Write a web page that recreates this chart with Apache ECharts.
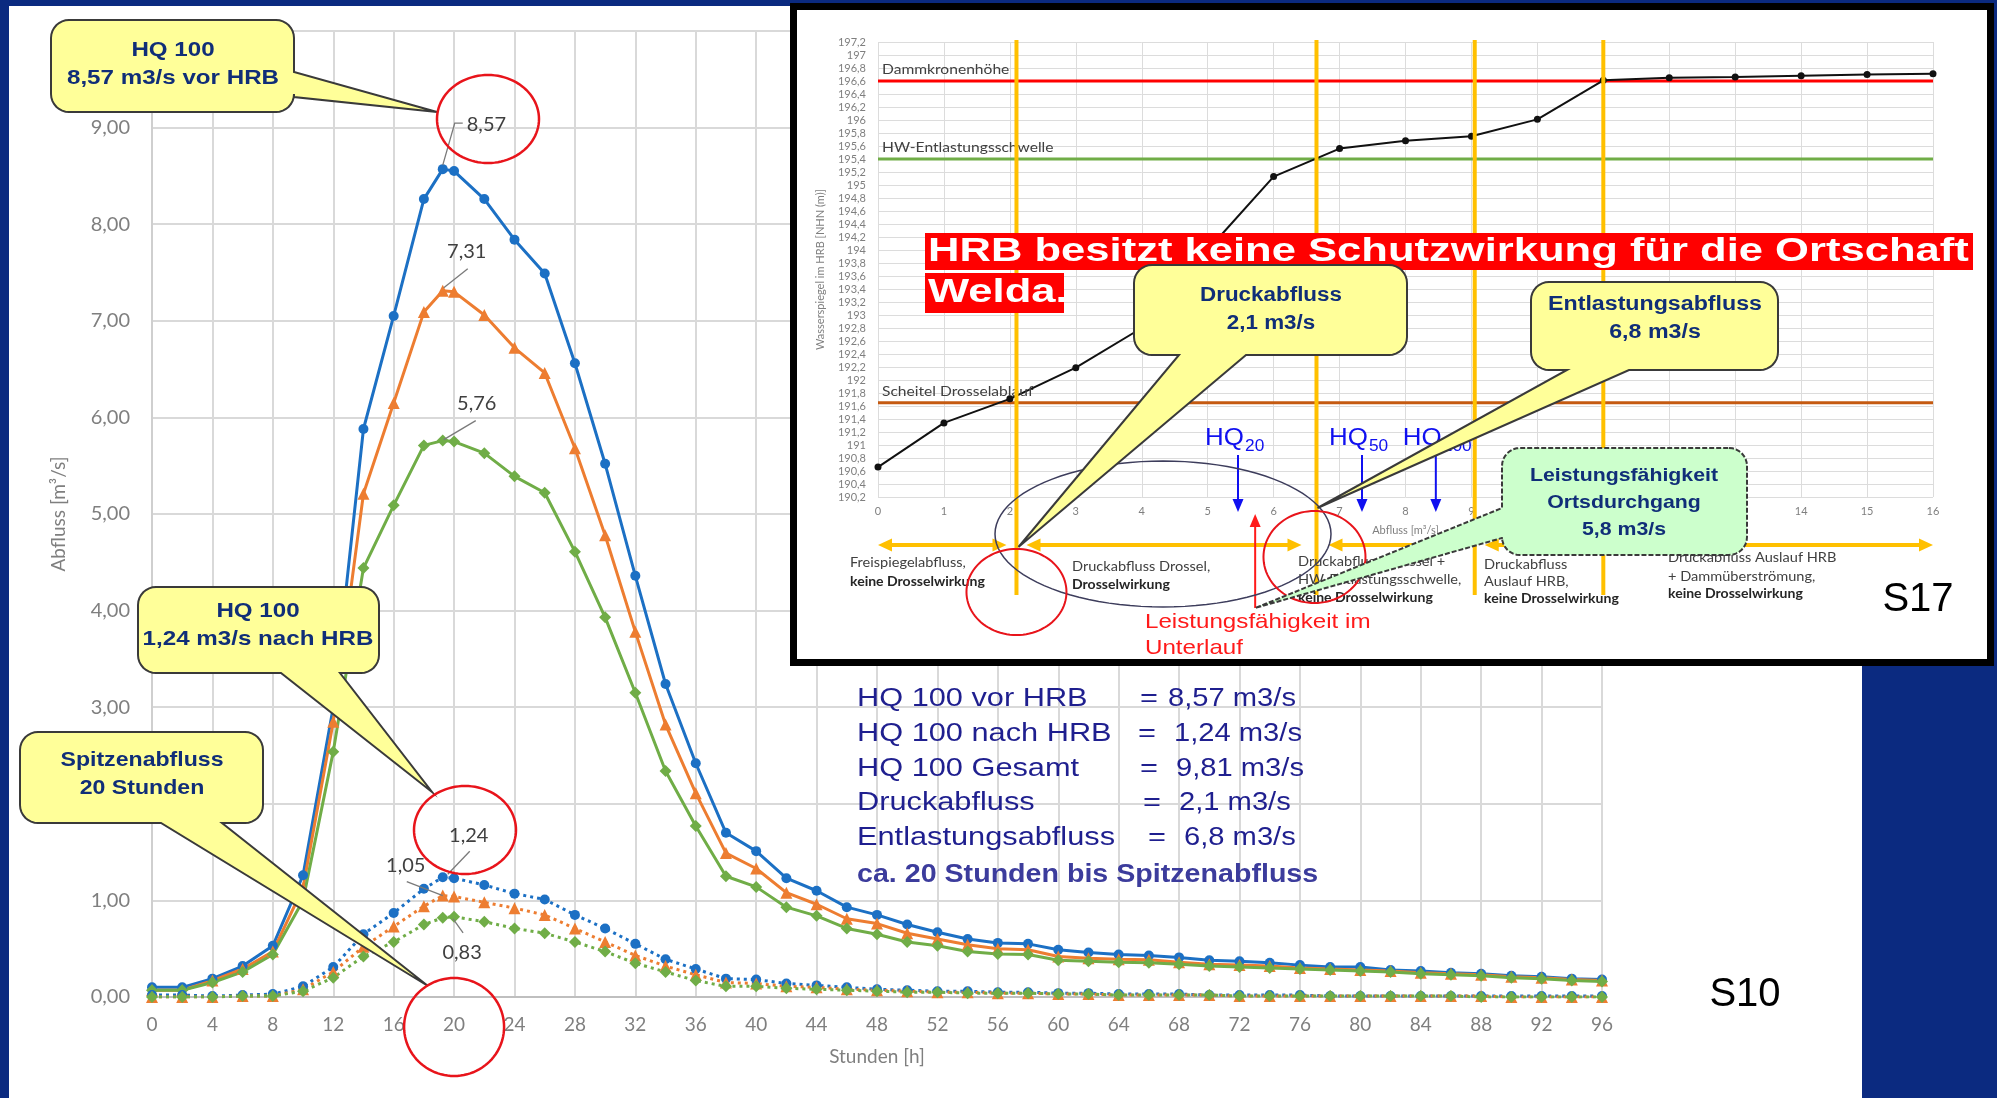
<!DOCTYPE html>
<html><head><meta charset="utf-8">
<script src="https://cdn.jsdelivr.net/npm/echarts/dist/echarts.min.js"></script>
<style>
html,body{margin:0;padding:0;background:#0B2A80;overflow:hidden;}
#bgw{position:absolute;left:9px;top:6px;width:1853px;height:1092px;background:#ffffff;}
#c{position:absolute;left:0;top:0;width:1997px;height:1098px;}
</style></head>
<body><div id="bgw"></div><div id="c"></div>
<script>
// ---------------- DATA ----------------
const hours = [0,2,4,6,8,10,12,14,16,18,19.25,20,22,24,26,28,30,32,34,36,38,40,42,44,46,48,50,52,54,56,58,60,62,64,66,68,70,72,74,76,78,80,82,84,86,88,90,92,94,96];
// HQ 100 vor HRB (three runs)
const vorA = [0.10,0.10,0.19,0.32,0.53,1.26,3.00,5.88,7.05,8.26,8.57,8.55,8.26,7.84,7.49,6.56,5.52,4.36,3.24,2.42,1.70,1.51,1.23,1.10,0.93,0.85,0.75,0.67,0.60,0.56,0.55,0.49,0.46,0.44,0.43,0.41,0.38,0.37,0.355,0.33,0.31,0.31,0.28,0.27,0.25,0.24,0.22,0.21,0.19,0.18];
const vorB = [0.07,0.07,0.17,0.29,0.47,1.13,2.85,5.21,6.15,7.09,7.31,7.30,7.06,6.72,6.46,5.68,4.78,3.78,2.82,2.11,1.49,1.33,1.08,0.96,0.81,0.76,0.66,0.60,0.54,0.50,0.49,0.42,0.40,0.39,0.385,0.36,0.34,0.33,0.32,0.30,0.29,0.28,0.27,0.25,0.24,0.23,0.21,0.20,0.18,0.17];
const vorC = [0.07,0.07,0.15,0.26,0.44,1.00,2.54,4.44,5.09,5.71,5.76,5.75,5.63,5.39,5.22,4.61,3.93,3.15,2.34,1.77,1.25,1.14,0.93,0.84,0.71,0.65,0.57,0.53,0.47,0.445,0.44,0.38,0.37,0.36,0.355,0.34,0.32,0.31,0.30,0.29,0.28,0.27,0.26,0.24,0.23,0.22,0.20,0.19,0.17,0.16];
// HQ 100 nach HRB (three runs)
const nachA = [0.02,0.02,0.01,0.02,0.03,0.11,0.31,0.65,0.87,1.12,1.24,1.23,1.16,1.07,1.01,0.85,0.71,0.55,0.39,0.29,0.19,0.18,0.14,0.12,0.10,0.08,0.07,0.06,0.06,0.05,0.05,0.04,0.04,0.03,0.03,0.03,0.02,0.02,0.02,0.02,0.01,0.01,0.01,0.01,0.01,0.01,0.01,0.01,0.01,0.01];
const nachB = [0.00,0.00,0.00,0.01,0.01,0.08,0.26,0.52,0.73,0.94,1.05,1.04,0.98,0.92,0.85,0.71,0.57,0.43,0.32,0.23,0.15,0.14,0.11,0.10,0.08,0.07,0.06,0.05,0.05,0.04,0.04,0.03,0.03,0.02,0.02,0.02,0.02,0.01,0.01,0.01,0.01,0.01,0.01,0.01,0.01,0.01,0.00,0.00,0.00,0.00];
const nachC = [0.00,0.00,0.00,0.01,0.01,0.06,0.20,0.42,0.57,0.75,0.82,0.83,0.78,0.71,0.66,0.57,0.47,0.35,0.26,0.17,0.11,0.11,0.09,0.08,0.07,0.06,0.05,0.05,0.04,0.04,0.04,0.03,0.03,0.02,0.02,0.02,0.02,0.01,0.01,0.01,0.01,0.01,0.01,0.01,0.01,0.00,0.00,0.00,0.00,0.00];
// inset: water level vs discharge
const inQ = [0,1,2,3,4,5,6,7,8,9,10,11,12,13,14,15,16];
const inH = [190.66,191.34,191.71,192.19,192.80,194.00,195.13,195.56,195.68,195.75,196.01,196.61,196.65,196.66,196.68,196.70,196.71];
const refLevels = [196.6, 195.4, 191.65];
const refNames = ['Dammkronenhöhe','HW-Entlastungsschwelle','Scheitel Drosselablauf'];
const refColors = ['#FF0000','#70AD47','#C55A11'];
const phaseQ = [2.1, 6.65, 9.05, 11];
const hqQ = [5.46, 7.34, 8.46];
const hqSub = ['20','50','100'];
const unterlaufQ = 5.72;

// ---------------- CHART ----------------
const C_BLUE='#1C70C4', C_OR='#ED7D31', C_GR='#70AD47';
const zip = (a,b)=>a.map((v,i)=>[v,b[i]]);
const fmt2 = v=>v.toFixed(2).replace('.',',');

function mainSeries(vals,color,sym,size,dotted){
  return {type:'line', xAxisIndex:0, yAxisIndex:0, data:zip(hours,vals), symbol:sym, symbolSize:size,
    lineStyle:{color:color,width:3,type:dotted?[3,4]:'solid'}, itemStyle:{color:color}, z:2, silent:true};
}

const series = [
  mainSeries(vorA,C_BLUE,'circle',10,false),
  mainSeries(vorB,C_OR,'triangle',12,false),
  mainSeries(vorC,C_GR,'diamond',12,false),
  mainSeries(nachA,C_BLUE,'circle',10,true),
  mainSeries(nachB,C_OR,'triangle',12,true),
  mainSeries(nachC,C_GR,'diamond',12,true)
];
refLevels.forEach((lv,i)=>{
  series.push({type:'line', xAxisIndex:1, yAxisIndex:1, data:[[inQ[0],lv],[inQ[inQ.length-1],lv]], symbol:'none',
    lineStyle:{color:refColors[i],width:3}, z:7, silent:true});
});
series.push({type:'line', xAxisIndex:1, yAxisIndex:1, data:zip(inQ,inH), symbol:'circle', symbolSize:7,
  lineStyle:{color:'#111',width:2}, itemStyle:{color:'#111'}, z:8, silent:true});

const option = {
  animation:false,
  grid:[
    {left:152, top:31, width:1450, height:966, containLabel:false, outerBoundsMode:'none'},
    {left:878, top:42, width:1055, height:455, containLabel:false, outerBoundsMode:'none', z:6}
  ],
  xAxis:[
    {type:'value', gridIndex:0, min:0, max:96, interval:4,
     axisLine:{show:true,lineStyle:{color:'#bfbfbf',width:2}}, axisTick:{show:false},
     splitLine:{show:true,lineStyle:{color:'#d9d9d9',width:2}},
     axisLabel:{margin:18, fontSize:19, color:'#7f7f7f', fontFamily:'Lato'},
     name:'Stunden [h]', nameLocation:'middle', nameGap:50, nameMoveOverlap:false,
     nameTextStyle:{color:'#7f7f7f',fontFamily:'Lato',fontSize:19}},
    {type:'value', gridIndex:1, min:0, max:16, interval:1, z:6,
     axisLine:{show:false}, axisTick:{show:false},
     splitLine:{show:true,lineStyle:{color:'#dcdcdc',width:1}},
     axisLabel:{color:'#7f7f7f',fontFamily:'Lato',fontSize:11,margin:9},
     name:'Abfluss [m³/s]', nameLocation:'middle', nameGap:28, nameMoveOverlap:false,
     nameTextStyle:{color:'#7f7f7f',fontFamily:'Lato',fontSize:11}}
  ],
  yAxis:[
    {type:'value', gridIndex:0, min:0, max:10, interval:1,
     axisLine:{show:true,lineStyle:{color:'#cfcfcf',width:2}}, axisTick:{show:false},
     splitLine:{show:true,lineStyle:{color:'#d9d9d9',width:2}},
     axisLabel:{margin:22, formatter:fmt2, color:'#7f7f7f', fontFamily:'Lato', fontSize:20},
     name:'Abfluss [m³/s]', nameLocation:'middle', nameGap:84, nameRotate:90, nameMoveOverlap:false,
     nameTextStyle:{color:'#7f7f7f',fontFamily:'Lato',fontSize:19}},
    {type:'value', gridIndex:1, min:190.2, max:197.2, interval:0.2, z:6,
     axisLine:{show:false}, axisTick:{show:false},
     splitLine:{show:true,lineStyle:{color:'#dcdcdc',width:1}},
     axisLabel:{color:'#7f7f7f',fontFamily:'Lato',fontSize:11,margin:12,
       formatter:v=>{const r=Math.round(v*10)/10; return (Number.isInteger(r)?String(r):r.toFixed(1)).replace('.',',');}},
     name:'Wasserspiegel im HRB [NHN (m)]', nameLocation:'middle', nameGap:52, nameRotate:90, nameMoveOverlap:false,
     nameTextStyle:{color:'#7f7f7f',fontFamily:'Lato',fontSize:11}}
  ],
  series:series
};

const chart = echarts.init(document.getElementById('c'), null, {renderer:'canvas', width:1997, height:1098});
chart.setOption(option);

// ---------------- ANNOTATIONS ----------------
const G = [];
const pm = (x,y)=>chart.convertToPixel({gridIndex:0},[x,y]);
const pi = (x,y)=>chart.convertToPixel({gridIndex:1},[x,y]);
const AR='"Liberation Sans", Arial, sans-serif';
function T(x,y,s,font,color,o){o=o||{};G.push({type:'text',x:x,y:y,z:o.z||20,scaleX:o.sx||1,silent:true,
  style:{text:s,font:font,fill:color,align:o.align||'left',verticalAlign:'middle'}});}
function L(x1,y1,x2,y2,color,w,z,dash){G.push({type:'line',z:z||20,silent:true,shape:{x1,y1,x2,y2},style:{stroke:color,lineWidth:w,lineDash:dash||null}});}
function PL(pts,color,w,z){G.push({type:'polyline',z:z||20,silent:true,shape:{points:pts},style:{stroke:color,lineWidth:w,fill:null}});}
function PG(pts,fill,z,stroke,lw,dash){G.push({type:'polygon',z:z||20,silent:true,shape:{points:pts},style:{fill:fill,stroke:stroke||null,lineWidth:lw||0,lineDash:dash||null}});}
function R(x,y,w,h,fill,z){G.push({type:'rect',z:z||20,silent:true,shape:{x,y,width:w,height:h},style:{fill:fill}});}
function E(cx,cy,rx,ry,color,w,z){
  const pts=[]; for(let k=0;k<96;k++){const t=k/96*Math.PI*2; pts.push([cx+rx*Math.cos(t),cy+ry*Math.sin(t)]);}
  PG(pts,null,z,color,w);
}
function head(x,y,dir,len,wid,color,z){
  let p;
  if(dir==='l')p=[[x,y],[x+len,y-wid/2],[x+len,y+wid/2]];
  if(dir==='r')p=[[x,y],[x-len,y-wid/2],[x-len,y+wid/2]];
  if(dir==='u')p=[[x,y],[x-wid/2,y+len],[x+wid/2,y+len]];
  if(dir==='d')p=[[x,y],[x-wid/2,y-len],[x+wid/2,y-len]];
  PG(p,color,z);
}
function arcPts(cx,cy,r,a0,a1){const o=[];for(let k=0;k<=8;k++){const t=(a0+(a1-a0)*k/8)*Math.PI/180;o.push([cx+r*Math.cos(t),cy+r*Math.sin(t)]);}return o;}
function cpts(x,y,w,h,r,side,a,b,tx,ty){
  let p=[];
  p=p.concat(arcPts(x+w-r,y+r,r,270,360));
  if(side==='right')p.push([x+w,a],[tx,ty],[x+w,b]);
  p=p.concat(arcPts(x+w-r,y+h-r,r,0,90));
  if(side==='bottom')p.push([b,y+h],[tx,ty],[a,y+h]);
  p=p.concat(arcPts(x+r,y+h-r,r,90,180));
  if(side==='left')p.push([x,b],[tx,ty],[x,a]);
  p=p.concat(arcPts(x+r,y+r,r,180,270));
  return p;
}
function callout(x,y,w,h,r,side,a,b,tx,ty,fill,z,dash){
  PG(cpts(x,y,w,h,r,side,a,b,tx,ty),fill,z,'#3a3a3a',2,dash);
}

// data labels with leader lines (main chart)
const labelSpecs = [
  {v:vorA, i:10, lead:[[0,-4],[12,-46],[20,-46]], t:[24,-45], align:'left'},
  {v:vorB, i:10, lead:[[1,-3],[25,-22]], t:[24,-39], align:'center'},
  {v:vorC, i:10, lead:[[1,-1],[33,-20]], t:[34,-37], align:'center'},
  {v:nachA, i:10, lead:[[5,-3],[27,-26]], t:[26,-42], align:'center'},
  {v:nachB, i:10, lead:[[-36,-14],[0,0]], t:[-37,-30], align:'center'},
  {v:nachC, i:11, lead:[[-1,2],[9,16]], t:[8,36], align:'center'}
];
labelSpecs.forEach(s=>{
  const p = pm(hours[s.i], s.v[s.i]);
  PL(s.lead.map(d=>[p[0]+d[0],p[1]+d[1]]),'#7a7a7a',1.3,3);
  T(p[0]+s.t[0],p[1]+s.t[1],fmt2(s.v[s.i]),'20px Lato','#404040',{z:3,align:s.align});
});

// main callouts
const CY='#FFFF99', NAVY='#102E78';
callout(51,20,243,92,18,'right',72,97,437,112,CY,4);
T(173,50,'HQ 100','bold 21px '+AR,NAVY,{align:'center',sx:1.15,z:5});
T(173,78,'8,57 m3/s vor HRB','bold 21px '+AR,NAVY,{align:'center',sx:1.15,z:5});
callout(138,587,241,86,18,'bottom',281,340,432,792,CY,4);
T(258,611,'HQ 100','bold 21px '+AR,NAVY,{align:'center',sx:1.15,z:5});
T(258,639,'1,24 m3/s nach HRB','bold 21px '+AR,NAVY,{align:'center',sx:1.15,z:5});
callout(20,732,243,91,18,'bottom',161,222,428,986,CY,4);
T(142,760,'Spitzenabfluss','bold 21px '+AR,NAVY,{align:'center',sx:1.1,z:5});
T(142,788,'20 Stunden','bold 21px '+AR,NAVY,{align:'center',sx:1.1,z:5});
const x20 = pm(20,0)[0];
E(488,119,51,44,'#E8141B',2.5,4);
E(465,830,51,44,'#E8141B',2.5,4);
E(x20,1027,50,49,'#E8141B',2.5,4);

// text block
const TB='#1F1F8F', FT='26.5px '+AR;
const rows=[['HQ 100 vor HRB',1140,'8,57 m3/s',1168,699],['HQ 100 nach HRB',1138,'1,24 m3/s',1174,734],
  ['HQ 100 Gesamt',1140,'9,81 m3/s',1176,769],['Druckabfluss',1143,'2,1 m3/s',1179,803],['Entlastungsabfluss',1148,'6,8 m3/s',1184,838]];
rows.forEach(r=>{T(857,r[4],r[0],FT,TB,{sx:1.16,z:5});T(r[1],r[4],'=',FT,TB,{sx:1.16,z:5});T(r[3],r[4],r[2],FT,TB,{sx:1.1,z:5});});
T(857,875,'ca. 20 Stunden bis Spitzenabfluss','bold 26.5px '+AR,'#3C3C9C',{sx:1.08,z:5});
T(1745,995,'S10','40px '+AR,'#000',{align:'center',z:5});

// inset frame
R(790,3,1204,663,'#000000',5);
R(797,10,1190,649,'#ffffff',5);

// reference line labels
refLevels.forEach((lv,i)=>{
  const p=pi(0,lv);
  T(p[0]+4,p[1]-11,refNames[i],'13px Lato','#404040',{sx:1.2,z:9});
});
// phase separators
const vx = phaseQ.map(q=>pi(q,195)[0]);
vx.forEach(x=>L(x,40,x,595,'#FFC000',4,9));
// orange arrows
const x0=pi(0,195)[0], x16=pi(16,195)[0], AY=545, OC='#FFC000';
const segs=[[x0,vx[0]-10],[vx[0]+10,vx[1]-15],[vx[1]+12,vx[2]-8],[vx[2]+10,vx[3]-10],[vx[3]+10,x16]];
segs.forEach(s=>{L(s[0]+12,AY,s[1]-12,AY,OC,4,9);head(s[0],AY,'l',14,13,OC,9);head(s[1],AY,'r',14,13,OC,9);});

// phase texts
const FS='13px Lato', FB='bold 13px Lato', TC='#404040', TBk='#262626';
T(850,563,'Freispiegelabfluss,',FS,TC,{sx:1.12,z:10}); T(850,582,'keine Drosselwirkung',FB,TBk,{sx:1.08,z:10});
T(1072,567,'Druckabfluss Drossel,',FS,TC,{sx:1.12,z:10}); T(1072,585,'Drosselwirkung',FB,TBk,{sx:1.08,z:10});
T(1298,562,'Druckabfluss Drossel +',FS,TC,{sx:1.12,z:10}); T(1298,580,'HW-Entlastungsschwelle,',FS,TC,{sx:1.12,z:10}); T(1298,598,'keine Drosselwirkung',FB,TBk,{sx:1.08,z:10});
T(1484,565,'Druckabfluss',FS,TC,{sx:1.12,z:10}); T(1484,582,'Auslauf HRB,',FS,TC,{sx:1.12,z:10}); T(1484,599,'keine Drosselwirkung',FB,TBk,{sx:1.08,z:10});
T(1668,558,'Druckabfluss Auslauf HRB',FS,TC,{sx:1.12,z:10}); T(1668,577,'+ Dammüberströmung,',FS,TC,{sx:1.12,z:10}); T(1668,594,'keine Drosselwirkung',FB,TBk,{sx:1.08,z:10});
T(1918,600,'S17','40px '+AR,'#000',{align:'center',z:10});

// HQ markers
const HB='#1010F0';
hqQ.forEach((q,i)=>{
  const x=pi(q,195)[0];
  T(x-33,438,'HQ','24px '+AR,HB,{sx:1.08,z:10});
  T(x+7,447,hqSub[i],'16px '+AR,HB,{sx:1.08,z:10});
  L(x,455,x,500,HB,2,10); head(x,512,'d',13,11,HB,10);
});
// Unterlauf red arrow
const ux=pi(unterlaufQ,195)[0];
L(ux,608,ux,527,'#FF1A1A',2,10); head(ux,514,'u',13,11,'#FF1A1A',10);
T(1145,622,'Leistungsfähigkeit im','21px '+AR,'#FF1A1A',{sx:1.15,z:10});
T(1145,648,'Unterlauf','21px '+AR,'#FF1A1A',{sx:1.15,z:10});

// circles / ellipse in inset
E(1163,534,168,73,'#3d3d5c',1.5,11);
E(vx[0],592,50,43,'#E8141B',2,11);
E(vx[1]-2,557,51,46,'#E8141B',2,11);

// red banner
R(925,233,1048,37,'#FF0000',12);
R(925,273,139,40,'#FF0000',12);
T(928,252,'HRB besitzt keine Schutzwirkung für die Ortschaft','bold 33px '+AR,'#ffffff',{sx:1.32,z:13});
T(928,293,'Welda.','bold 33px '+AR,'#ffffff',{sx:1.32,z:13});

// inset callouts
callout(1134,265,273,90,18,'bottom',1179,1246,vx[0]+2,547,CY,14);
T(1271,295,'Druckabfluss','bold 20px '+AR,NAVY,{align:'center',sx:1.12,z:15});
T(1271,323,'2,1 m3/s','bold 20px '+AR,NAVY,{align:'center',sx:1.12,z:15});
callout(1531,282,247,88,18,'bottom',1567,1629,vx[1]+1,508,CY,14);
T(1655,304,'Entlastungsabfluss','bold 20px '+AR,NAVY,{align:'center',sx:1.16,z:15});
T(1655,332,'6,8 m3/s','bold 20px '+AR,NAVY,{align:'center',sx:1.16,z:15});
callout(1502,448,245,107,18,'left',508,538,ux,608,'#CCFFCC',14,[5,2]);
T(1624,476,'Leistungsfähigkeit','bold 19px '+AR,NAVY,{align:'center',sx:1.12,z:15});
T(1624,503,'Ortsdurchgang','bold 19px '+AR,NAVY,{align:'center',sx:1.12,z:15});
T(1624,530,'5,8 m3/s','bold 19px '+AR,NAVY,{align:'center',sx:1.12,z:15});

chart.setOption({graphic:{elements:G}});
</script></body></html>
